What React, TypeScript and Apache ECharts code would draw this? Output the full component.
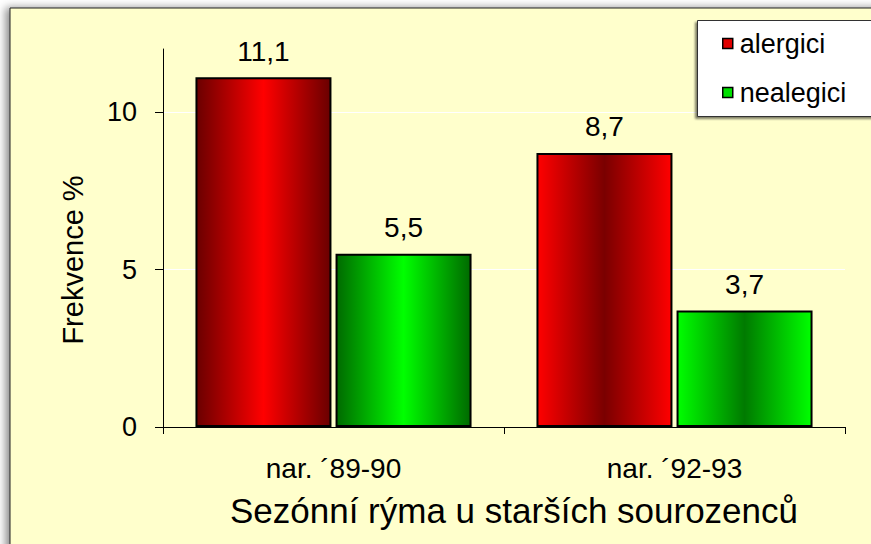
import React, { useEffect, useRef } from "react";
import * as echarts from "echarts";

const categories = ["nar. ´89-90", "nar. ´92-93"];
const alergici = [11.1, 8.7];
const nealergici = [5.5, 3.7];
const yTickValues = [0, 5, 10];
const seriesNames = ["alergici", "nealegici"];
const yAxisName = "Frekvence %";
const xAxisName = "Sezónní rýma u starších sourozenců";

const FONT = "'Liberation Sans', Arial, sans-serif";

const grad = (edge: string, mid: string) =>
  new echarts.graphic.LinearGradient(0, 0, 1, 0, [
    { offset: 0, color: edge },
    { offset: 0.5, color: mid },
    { offset: 1, color: edge },
  ]);

const redStyles = [grad("#6a0000", "#ff0000"), grad("#ff0000", "#7a0000")];
const greenStyles = [grad("#006a00", "#00ff00"), grad("#00ff00", "#007a00")];

const fmt = (v: number) => String(v).replace(".", ",");

export default function App() {
  const ref = useRef<HTMLDivElement>(null);
  useEffect(() => {
    if (!ref.current) return;
    const chart = echarts.init(ref.current, undefined, { renderer: "svg" });
    const labelCfg = {
      show: true,
      position: "top",
      distance: 12,
      fontFamily: FONT,
      fontSize: 28,
      color: "#000",
      formatter: (p: any) => fmt(p.value),
    };
    chart.setOption({
      animation: false,
      backgroundColor: "#ffffff",
      textStyle: { fontFamily: FONT },
      graphic: [
        {
          type: "rect",
          z: -10,
          silent: true,
          shape: { x: 10, y: 8, width: 900, height: 600 },
          style: {
            fill: "#FFFFCC",
            stroke: "#222",
            lineWidth: 1,
            shadowColor: "rgba(0,0,0,0.45)",
            shadowBlur: 8,
            shadowOffsetX: -4,
            shadowOffsetY: 0,
          },
        },
        {
          type: "rect",
          z: 1,
          silent: true,
          shape: { x: 697.5, y: 20.5, width: 220, height: 96 },
          style: {
            fill: "#ffffff",
            stroke: "#333",
            lineWidth: 1,
            shadowColor: "rgba(0,0,0,0.5)",
            shadowBlur: 2,
            shadowOffsetX: -2,
            shadowOffsetY: 2,
          },
        },
      ],
      grid: { left: 163, right: 26, top: 49, bottom: 117 },
      legend: {
        orient: "vertical",
        left: 697,
        top: 20,
        z: 5,
        padding: [10, 5, 12, 25],
        itemGap: 22,
        itemWidth: 10,
        itemHeight: 10,
        icon: "rect",
        textStyle: {
          fontFamily: FONT,
          fontSize: 27,
          lineHeight: 26,
          color: "#000",
          padding: [0, 0, 0, 2],
        },
        data: [
          { name: seriesNames[0], itemStyle: { color: "#e00000", borderColor: "#000", borderWidth: 1.5 } },
          { name: seriesNames[1], itemStyle: { color: "#00e000", borderColor: "#000", borderWidth: 1.5 } },
        ],
      },
      xAxis: {
        type: "category",
        data: categories,
        name: xAxisName,
        nameLocation: "middle",
        nameGap: 66,
        nameTextStyle: { fontFamily: FONT, fontSize: 35, color: "#000", padding: [0, 0, 0, 20] },
        axisLine: { lineStyle: { color: "#000", width: 1 } },
        axisTick: { show: true, length: 7, lineStyle: { color: "#000" } },
        axisLabel: { margin: 27, fontFamily: FONT, fontSize: 28, color: "#000" },
      },
      yAxis: {
        type: "value",
        min: 0,
        max: 12,
        name: yAxisName,
        nameLocation: "middle",
        nameGap: 76,
        nameTextStyle: { fontFamily: FONT, fontSize: 29, color: "#000", padding: [0, 44, 0, 0] },
        axisLine: { show: true, lineStyle: { color: "#000", width: 1 } },
        axisTick: { show: true, length: 8, customValues: yTickValues, lineStyle: { color: "#000" } },
        axisLabel: { margin: 26, customValues: yTickValues, fontFamily: FONT, fontSize: 27, color: "#000" },
        splitLine: { show: true, lineStyle: { color: "#ffffff", width: 1 } },
      },
      series: [
        {
          name: seriesNames[0],
          type: "bar",
          barWidth: 136,
          barGap: "3%",
          itemStyle: { color: "#e00000", borderColor: "#000", borderWidth: 2 },
          label: labelCfg,
          data: alergici.map((v, i) => ({ value: v, itemStyle: { color: redStyles[i] } })),
        },
        {
          name: seriesNames[1],
          type: "bar",
          barWidth: 136,
          barGap: "3%",
          itemStyle: { color: "#00e000", borderColor: "#000", borderWidth: 2 },
          label: labelCfg,
          data: nealergici.map((v, i) => ({ value: v, itemStyle: { color: greenStyles[i] } })),
        },
      ],
    });
    return () => chart.dispose();
  }, []);
  return (
    <div
      ref={ref}
      style={{ position: "fixed", left: 0, top: 0, width: 871, height: 544 }}
    />
  );
}
